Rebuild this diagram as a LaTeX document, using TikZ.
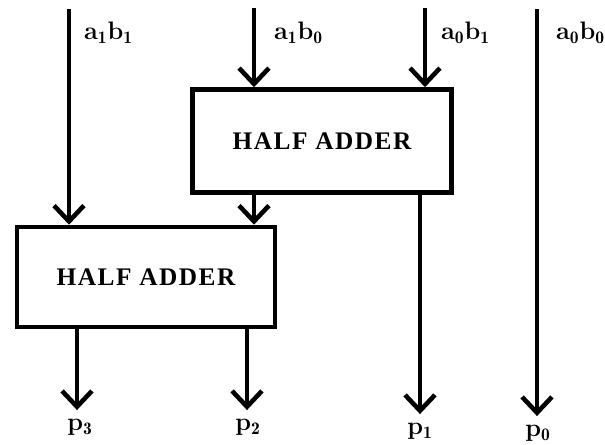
\documentclass[tikz,border=0pt]{standalone}
\usepackage{fontspec}
\newfontfamily\boxfont[LetterSpace=6]{Liberation Serif}
\usetikzlibrary{arrows.meta}

\tikzset{
  wire/.style={line width=2.6pt, -{Straight Barb[length=9pt,width=17pt,line width=2.6pt]}},
  adder/.style={draw, line width=2.6pt, inner sep=0pt, font=\boxfont\bfseries\Large},
  lbl/.style={font=\bfseries\Large, inner sep=1pt},
  outlbl/.style={lbl, outer sep=4pt}
}

\begin{document}
\begin{tikzpicture}[x=0.02cm, y=-0.02cm]
  \useasboundingbox (0,0) rectangle (605,445);

  % half adders
  \node[adder, minimum width=5.18cm, minimum height=2.06cm] (ha1) at (322,141) {HALF ADDER};
  \node[adder, minimum width=5.16cm, minimum height=2cm] (ha2) at (146,277) {HALF ADDER};

  % inputs
  \coordinate (in11) at (69,9);
  \coordinate (in10) at (254,8);
  \coordinate (in01) at (425,8);
  \coordinate (in00) at (537,9);
  \node[lbl, anchor=west] (l11) at (82,33) {a$_\mathbf{1}$b$_\mathbf{1}$};
  \node[lbl, anchor=west] (l10) at (272,33) {a$_\mathbf{1}$b$_\mathbf{0}$};
  \node[lbl, anchor=west] (l01) at (439,33) {a$_\mathbf{0}$b$_\mathbf{1}$};
  \node[lbl, anchor=west] (l00) at (554,33) {a$_\mathbf{0}$b$_\mathbf{0}$};

  % outputs
  \node[outlbl] (p3) at (80,427) {p$_\mathbf{3}$};
  \node[outlbl] (p2) at (248,427) {p$_\mathbf{2}$};
  \node[outlbl] (p1) at (420,431) {p$_\mathbf{1}$};
  \node[outlbl] (p0) at (538,433) {p$_\mathbf{0}$};
  \coordinate (o3) at (77,0);
  \coordinate (o2) at (247,0);

  \draw[wire] (in11) -- (in11 |- ha2.north);
  \draw[wire] (in10) -- (in10 |- ha1.north);
  \draw[wire] (in01) -- (in01 |- ha1.north);
  \draw[wire] (in00) -- (in00 |- p0.north);
  \draw[wire] (ha1.south -| in10) -- (in10 |- ha2.north);
  \draw[wire] (ha1.south -| p1) -- (p1.north);
  \draw[wire] (ha2.south -| o3) -- (o3 |- p3.north);
  \draw[wire] (ha2.south -| o2) -- (o2 |- p2.north);
\end{tikzpicture}
\end{document}
